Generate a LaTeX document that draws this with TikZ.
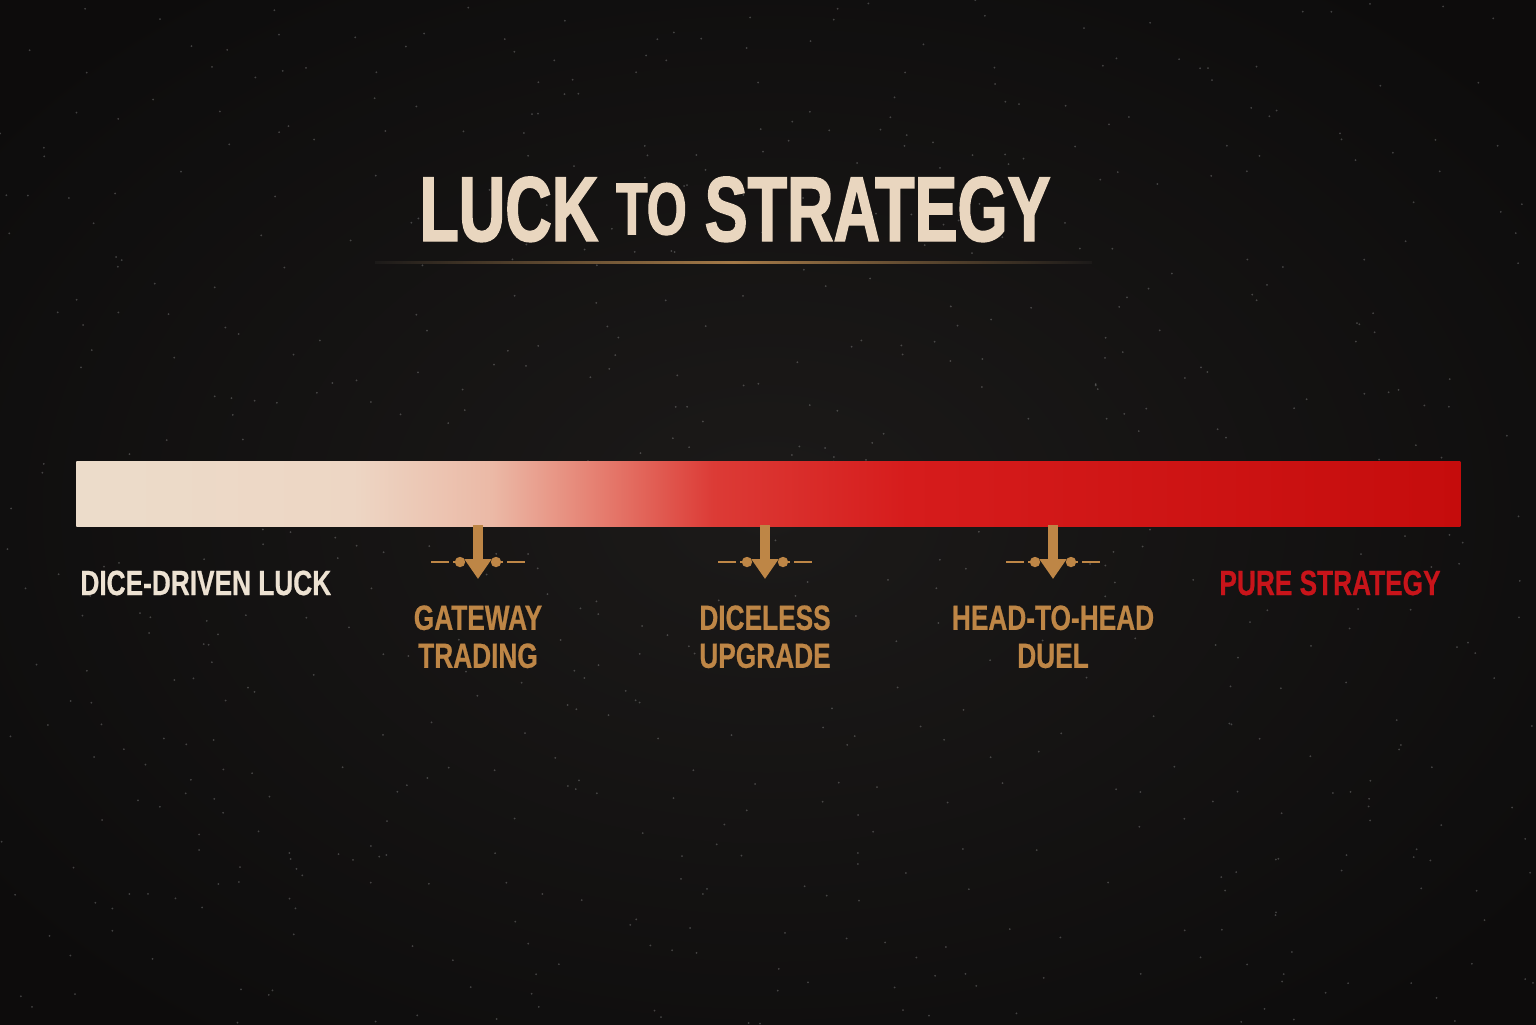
\documentclass[tikz,border=0pt]{standalone}
\usepackage{fontspec}
\usetikzlibrary{arrows.meta}
\newfontfamily\condfont{Liberation Sans}[FakeStretch=0.75,FakeBold=0.6]
\newfontfamily\titlefont{Liberation Sans}[FakeStretch=0.70,FakeBold=1.6]
\definecolor{bgin}{HTML}{1C1A19}
\definecolor{bgout}{HTML}{0D0C0C}
\definecolor{cream}{HTML}{E9D6BF}
\definecolor{creamlbl}{HTML}{EDE2D2}
\definecolor{gold}{HTML}{BE8646}
\definecolor{goldline}{HTML}{A47A48}
\definecolor{redlbl}{HTML}{C8141A}
\definecolor{b0}{HTML}{ECDCCA}
\definecolor{b1}{HTML}{EDD6C4}
\definecolor{b2}{HTML}{EBB9A6}
\definecolor{b3}{HTML}{E57C6E}
\definecolor{b4}{HTML}{DC3B36}
\definecolor{b5}{HTML}{D61C1C}
\definecolor{b6}{HTML}{C50C0C}
\pgfdeclarehorizontalshading{barshade}{100bp}{%
  color(0bp)=(b0); color(25bp)=(b0); color(35bp)=(b1); color(40bp)=(b2);
  color(44bp)=(b3); color(48bp)=(b4); color(55bp)=(b5); color(75bp)=(b6); color(100bp)=(b6)}
\begin{document}
\begin{tikzpicture}[x=0.5pt,y=-0.5pt,
  lbl/.style={inner sep=0pt, font=\condfont\bfseries\fontsize{17.5}{19}\selectfont},
  stagelbl/.style={lbl, text=gold, align=center, anchor=north},
  pointer/.style={draw=gold, line width=5pt, -{Triangle[width=13pt,length=10pt]}},
  deco/.style={draw=gold, line width=1pt},
  decodot/.style={fill=gold, draw=none}]
% background
\useasboundingbox (0,0) rectangle (1536,1024);
\fill[bgout] (0,0) rectangle (1536,1024);
\shade[inner color=bgin, outer color=bgout] (-200,-150) rectangle (1736,1174);
% speckle
\pgfmathsetseed{7}
\foreach \i in {1,...,700}{
  \pgfmathsetmacro{\px}{rnd*1536}
  \pgfmathsetmacro{\py}{rnd*1024}
  \fill[white, opacity=0.22] (\px,\py) circle (0.5pt);
}
% title
\node[inner sep=0pt, anchor=base, text=cream, font=\titlefont\bfseries\fontsize{46}{50}\selectfont] (title) at (735,241)
  {LUCK \raisebox{3.3pt}{\fontsize{36.8}{40}\selectfont TO} STRATEGY};
\shade[left color=bgin, right color=bgin, middle color=goldline] (375,261) rectangle (1092,263.5);
% bar
\node[inner sep=0pt, minimum width=692pt, minimum height=32.5pt, shading=barshade, draw=none, anchor=north west] (bar) at (76,461) {};
% end labels
\node[lbl, text=creamlbl, anchor=base west] (luck) at (80,595) {DICE-DRIVEN LUCK};
\node[lbl, text=redlbl, anchor=base east] (strat) at (1441,595) {PURE STRATEGY};
% stages
\foreach \n/\x/\t in {g/478/{GATEWAY\\TRADING}, d/765/{DICELESS\\UPGRADE}, h/1053/{HEAD-TO-HEAD\\DUEL}}{
  \coordinate (\n top) at (\x,525);
  \coordinate (\n tip) at (\x,579);
  \node[stagelbl] (\n lbl) at (\x,605) {\t};
  \draw[deco] (\x-47,562) -- (\x-29,562);
  \draw[deco] (\x-25,562) -- (\x-21,562);
  \draw[deco] (\x+21,562) -- (\x+25,562);
  \draw[deco] (\x+29,562) -- (\x+47,562);
  \fill[decodot] (\x-18,562) circle (2.6pt);
  \fill[decodot] (\x+18,562) circle (2.6pt);
  \draw[pointer] (\n top) -- (\n tip);
}
\end{tikzpicture}
\end{document}
